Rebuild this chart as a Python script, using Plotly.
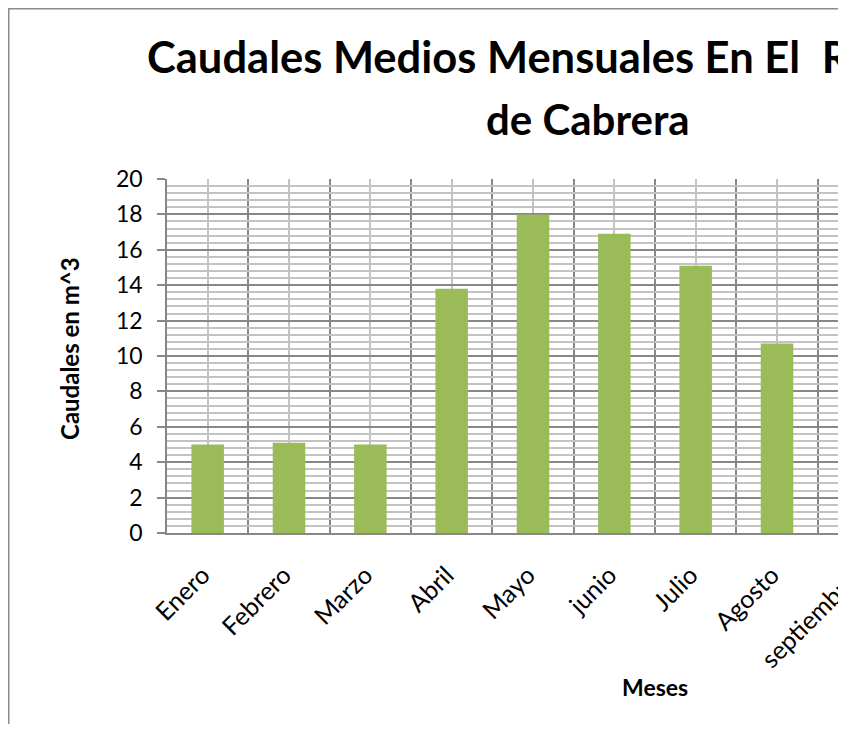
import plotly.graph_objects as go

# Datos del gráfico
meses = ["Enero", "Febrero", "Marzo", "Abril", "Mayo", "junio", "Julio", "Agosto", "septiembre"]
caudales = [5.0, 5.1, 5.0, 13.8, 18.0, 16.9, 15.1, 10.7, None]
y_ticks = [0, 2, 4, 6, 8, 10, 12, 14, 16, 18, 20]

# Tamaño y márgenes (px)
W, H = 830, 716
ML, MR, MT, MB = 159, 0, 171, 191
PW, PH = W - ML - MR, H - MT - MB
x_range = [-0.5, 7.75]

FONT = "Lato"
GRIS_OSC = "#878787"
GRIS_CLA = "#c3c3c3"
VERDE = "#9bbb59"
TAM_MES = 25


def px_x(px):
    return (px - ML) / PW


def px_y(py):
    return (H - MB - py) / PH


fig = go.Figure()

fig.add_trace(
    go.Bar(
        x=list(range(len(meses))),
        y=caudales,
        marker=dict(color=VERDE, line=dict(width=0)),
        width=0.4,
        hoverinfo="x+y",
    )
)

fig.update_xaxes(
    range=x_range,
    tickmode="array",
    tickvals=list(range(len(meses))),
    ticktext=meses,
    tickangle=-45,
    tickfont=dict(family=FONT, size=TAM_MES, color="black"),
    ticklabelstandoff=16,
    ticklabelshift=-5,
    showgrid=True,
    gridcolor=GRIS_CLA,
    gridwidth=1.5,
    minor=dict(tickmode="linear", tick0=-0.5, dtick=1, showgrid=True, gridcolor=GRIS_OSC, gridwidth=1.5),
    showline=True,
    linecolor=GRIS_OSC,
    linewidth=1.5,
    ticks="",
    zeroline=False,
)

fig.update_yaxes(
    range=[0, 20],
    tickmode="array",
    tickvals=y_ticks,
    tickfont=dict(family=FONT, size=23, color="black"),
    showgrid=True,
    gridcolor=GRIS_OSC,
    gridwidth=1.5,
    minor=dict(tickmode="linear", tick0=0, dtick=0.4, showgrid=True, gridcolor=GRIS_CLA, gridwidth=1.5),
    showline=True,
    linecolor=GRIS_OSC,
    linewidth=1.5,
    ticks="outside",
    ticklen=8,
    tickcolor=GRIS_OSC,
    tickwidth=1.5,
    ticklabelstandoff=10,
    zeroline=False,
)

# Títulos
fig.add_annotation(
    text="<b>Caudales Medios Mensuales En El\u2002Río</b>",
    xref="paper", yref="paper", x=px_x(137), y=px_y(48),
    xanchor="left", yanchor="middle", showarrow=False,
    font=dict(family=FONT, size=43.5, color="black"),
)
fig.add_annotation(
    text="<b>de Cabrera</b>",
    xref="paper", yref="paper", x=px_x(579.5), y=px_y(111),
    xanchor="center", yanchor="middle", showarrow=False,
    font=dict(family=FONT, size=42, color="black"),
)
fig.add_annotation(
    text="<b>Meses</b>",
    xref="paper", yref="paper", x=px_x(647), y=px_y(679),
    xanchor="center", yanchor="middle", showarrow=False,
    font=dict(family=FONT, size=23, color="black"),
)
fig.add_annotation(
    text="<b>Caudales en m^3</b>",
    xref="paper", yref="paper", x=px_x(61), y=px_y(341),
    xanchor="center", yanchor="middle", showarrow=False, textangle=-90,
    font=dict(family=FONT, size=24, color="black"),
)

# etiqueta de septiembre (su marca queda fuera del rango visible)
i_sep = meses.index("septiembre")
fig.add_annotation(
    text=meses[i_sep],
    xref="paper", yref="paper",
    x=(i_sep - x_range[0]) / (x_range[1] - x_range[0]), y=0,
    xanchor="center", yanchor="middle", showarrow=False, textangle=-45,
    xshift=-50, yshift=-86,
    font=dict(family=FONT, size=TAM_MES, color="black"),
)

# borde del gráfico (izquierda y arriba)
fig.add_shape(type="line", xref="paper", yref="paper",
              x0=px_x(0.75), x1=px_x(0.75), y0=px_y(0), y1=px_y(H),
              line=dict(color="#8c8c8c", width=1.5))
fig.add_shape(type="line", xref="paper", yref="paper",
              x0=px_x(0), x1=px_x(W), y0=px_y(0.75), y1=px_y(0.75),
              line=dict(color="#8c8c8c", width=1.5))

fig.update_layout(
    width=W,
    height=H,
    margin=dict(l=ML, r=MR, t=MT, b=MB, pad=0),
    paper_bgcolor="white",
    plot_bgcolor="white",
    showlegend=False,
    bargap=0.6,
)

fig.write_html("out.html")
